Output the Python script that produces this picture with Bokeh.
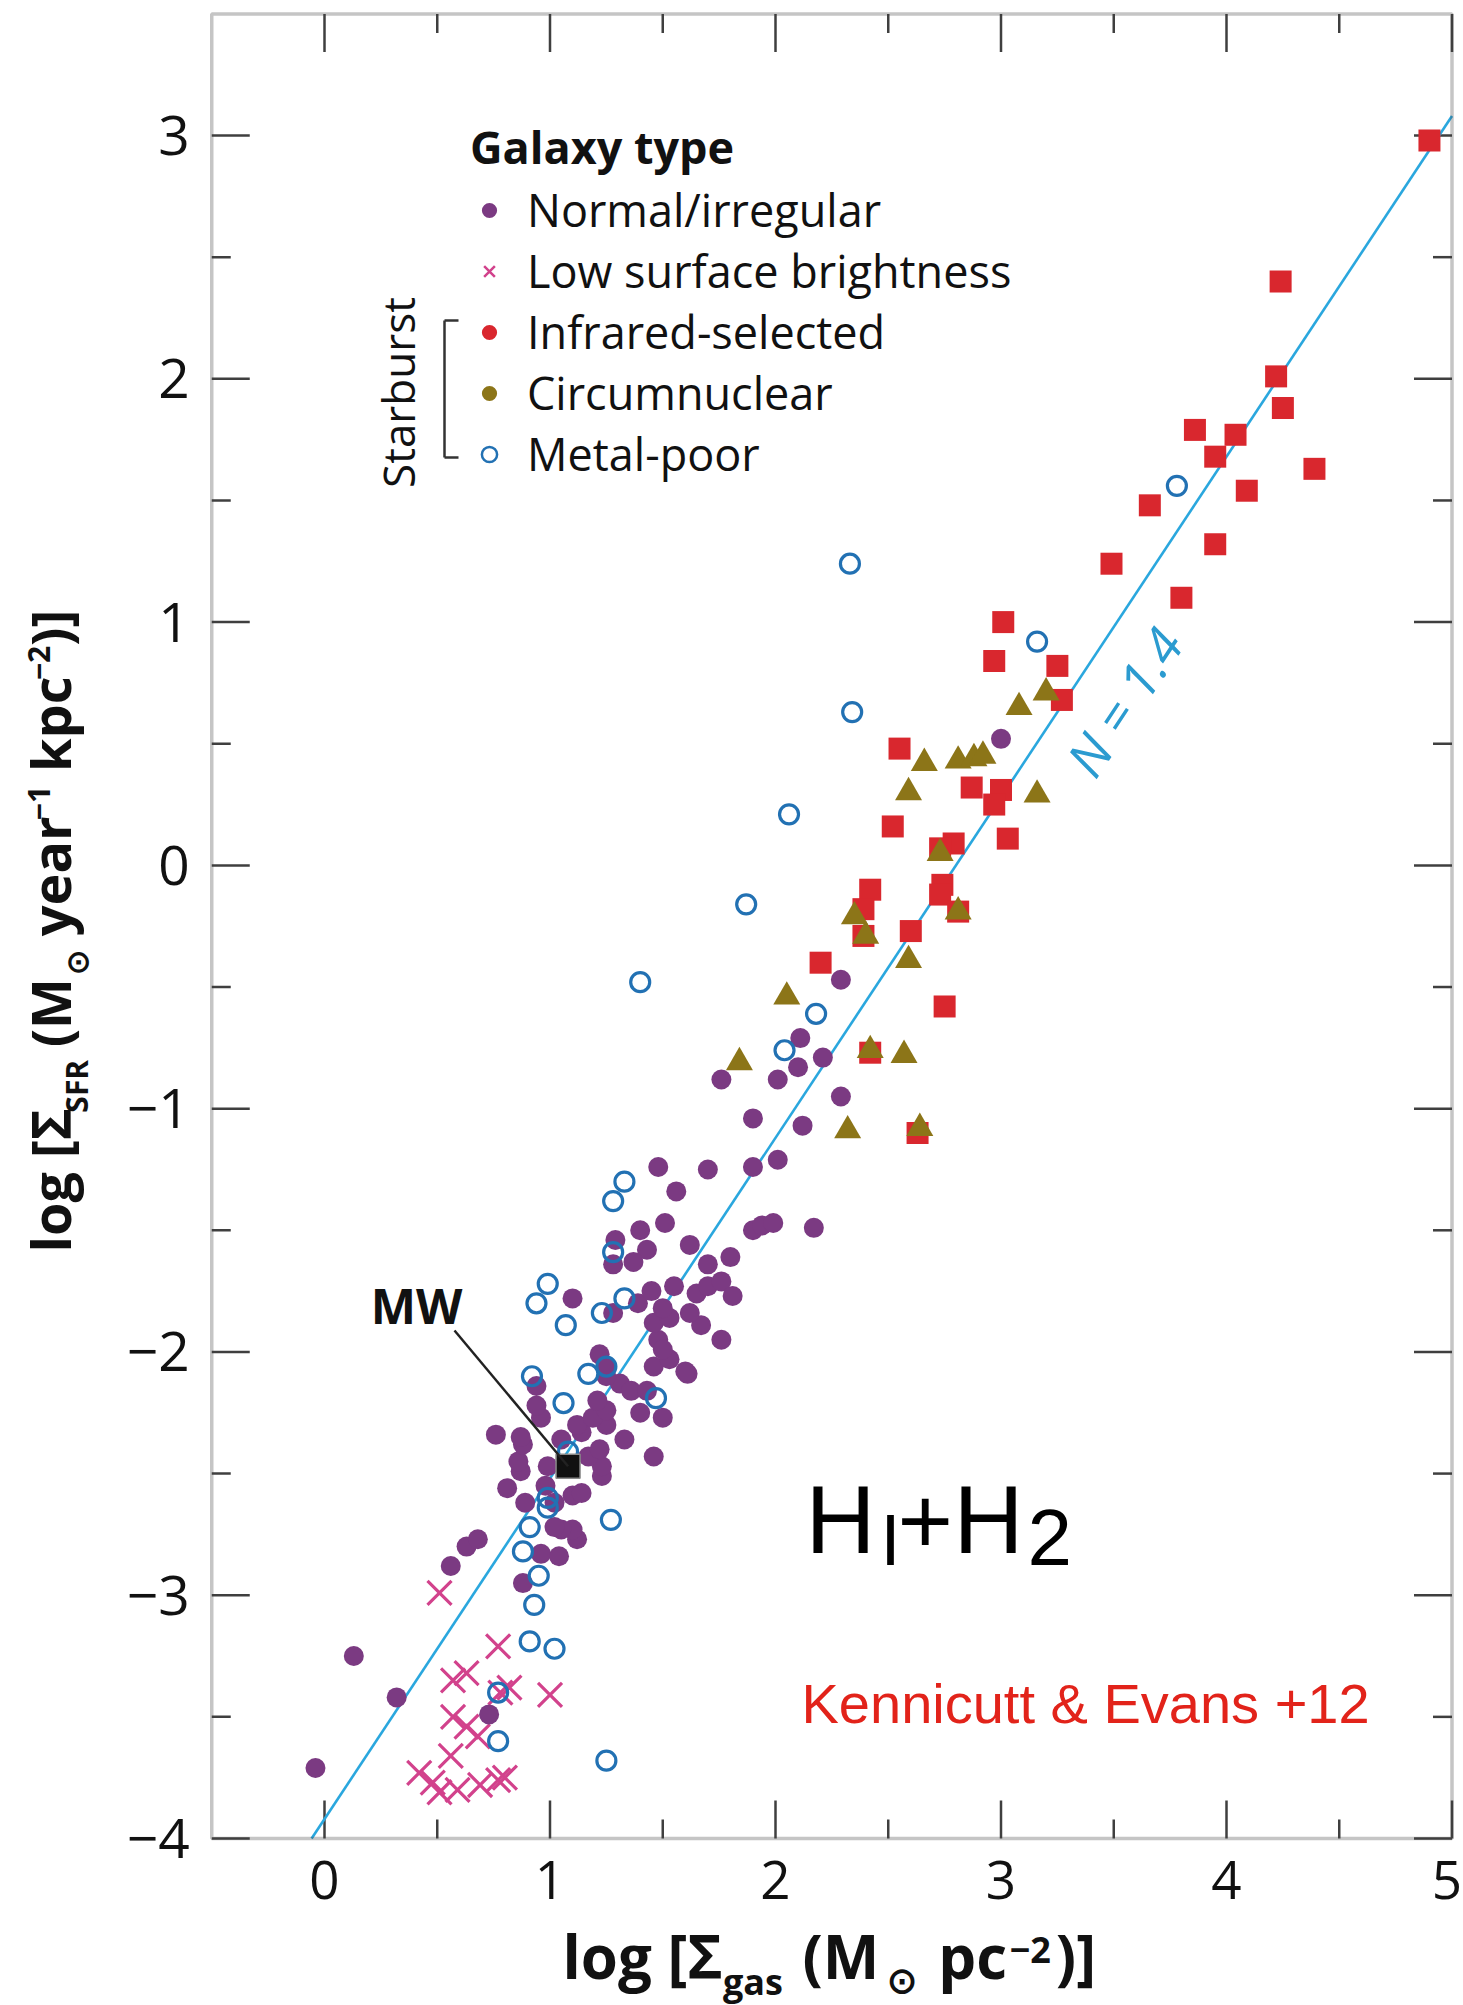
import math
import numpy as np
from bokeh.plotting import figure
from bokeh.models import Range1d, Label, Legend, LegendItem, Arrow, BoxAnnotation
from bokeh.embed import file_html
from bokeh.resources import INLINE
from bokeh.core.properties import value

# ---------------- data (log Sigma_gas, log Sigma_SFR) ----------------
normal_x = [-0.04, 0.13, 0.32, 0.73, 0.56, 0.63, 0.68, 0.88, 0.96, 1.04, 1.12, 1.10, 1.05, 1.02,
            1.02, 0.89, 1.10, 1.14, 0.81, 0.98, 1.23, 0.87, 0.99, 0.86, 1.23, 1.46, 1.17, 1.22,
            1.05, 0.88, 0.87, 0.76, 1.33, 1.14, 1.12, 1.25, 1.19, 1.50, 1.40, 1.25, 1.21,
            0.96, 0.94, 0.94, 1.31, 1.36, 1.43, 1.61, 1.25, 1.22, 1.25,
            1.46, 1.53, 1.60, 1.48, 1.50, 1.76, 1.67, 1.62, 1.46, 1.53, 1.39, 1.50, 1.45, 1.55,
            1.65, 1.70, 1.76, 1.81, 1.28, 1.10,
            1.62, 1.70, 1.80, 1.90, 1.94, 1.99, 2.17, 1.51, 1.40, 1.43, 1.29, 1.37, 1.28,
            1.56, 1.48, 1.70, 1.90, 2.01, 1.76, 2.01, 2.29, 1.90, 2.12,
            2.10, 2.21, 2.11, 2.29, 3.00]
normal_y = [-3.71, -3.25, -3.42, -3.49, -2.88, -2.80, -2.77, -2.95, -2.83, -2.84, -2.77, -2.73, -2.73, -2.72,
            -2.62, -2.62, -2.59, -2.58, -2.56, -2.55, -2.51, -2.49, -2.47, -2.45, -2.47, -2.43, -2.43, -2.40,
            -2.36, -2.38, -2.35, -2.34, -2.36, -2.33, -2.30, -2.30, -2.27, -2.27, -2.25, -2.24, -2.20,
            -2.27, -2.22, -2.14, -2.13, -2.16, -2.16, -2.09, -2.10, -2.01, -2.06,
            -2.06, -2.03, -2.08, -1.95, -1.99, -1.95, -1.89, -1.84, -1.88, -1.86, -1.80, -1.82, -1.75, -1.73,
            -1.76, -1.73, -1.71, -1.77, -1.84, -1.78,
            -1.56, -1.64, -1.61, -1.50, -1.48, -1.47, -1.49, -1.47, -1.50, -1.58, -1.54, -1.63, -1.64,
            -1.34, -1.24, -1.25, -1.24, -1.21, -0.88, -0.88, -0.95, -1.04, -1.07,
            -0.83, -0.79, -0.71, -0.47, 0.52]

lsb_x = [0.51, 0.77, 0.63, 0.57, 0.82, 0.78, 1.00, 0.57, 0.63, 0.68, 0.56, 0.42, 0.48, 0.59,
         0.69, 0.77, 0.80, 0.51]
lsb_y = [-2.99, -3.21, -3.32, -3.35, -3.38, -3.40, -3.41, -3.50, -3.54, -3.58, -3.66, -3.73, -3.77, -3.80,
         -3.78, -3.76, -3.75, -3.81]

ir_x = [4.90, 4.24, 4.22, 4.25, 3.86, 4.04, 3.95, 4.39, 4.09, 3.66, 3.95, 3.49, 3.80, 3.01, 2.97, 3.25,
        3.27, 2.55, 2.87, 3.00, 2.97, 2.52, 3.03, 2.79, 2.73, 2.74, 2.73, 2.42, 2.39, 2.39, 2.60, 2.20,
        2.81, 2.75, 2.42, 2.63]
ir_y = [2.98, 2.40, 2.01, 1.88, 1.79, 1.77, 1.68, 1.63, 1.54, 1.48, 1.32, 1.24, 1.10, 1.00, 0.84, 0.82,
        0.68, 0.48, 0.32, 0.31, 0.25, 0.16, 0.11, 0.09, 0.07, -0.08, -0.12, -0.10, -0.18, -0.29, -0.27, -0.40,
        -0.19, -0.58, -0.77, -1.10]

cn_x = [3.20, 3.08, 2.66, 2.81, 2.88, 2.92, 2.59, 3.16, 2.73, 2.35, 2.40, 2.81, 2.59, 2.05, 1.84, 2.42,
        2.57, 2.32, 2.64]
cn_y = [0.71, 0.65, 0.42, 0.43, 0.44, 0.45, 0.30, 0.29, 0.05, -0.21, -0.29, -0.19, -0.39, -0.54, -0.81, -0.76,
        -0.78, -1.09, -1.08]

mp_x = [3.78, 2.33, 3.16, 2.34, 2.06, 1.87, 1.40, 2.18, 2.04, 1.33, 1.28, 1.28, 0.99, 0.94, 1.07, 1.23,
        1.33, 0.92, 1.17, 1.25, 1.06, 1.47, 1.08, 0.99, 0.99, 1.27, 0.91, 0.88, 0.95, 0.93, 0.91, 1.02,
        0.77, 0.77, 1.25]
mp_y = [1.56, 1.24, 0.92, 0.63, 0.21, -0.16, -0.48, -0.61, -0.76, -1.30, -1.38, -1.59, -1.72, -1.80, -1.89, -1.84,
        -1.78, -2.10, -2.09, -2.06, -2.21, -2.19, -2.41, -2.60, -2.64, -2.69, -2.72, -2.82, -2.92, -3.04, -3.19, -3.22,
        -3.40, -3.60, -3.68]

mw_x = [1.08]
mw_y = [-2.47]

fit_slope = 1.4
fit_intercept = -3.92

x_ticks = [0, 1, 2, 3, 4, 5]
x_tick_labels = ["0", "1", "2", "3", "4", "5"]
y_ticks = [-4, -3, -2, -1, 0, 1, 2, 3]
y_tick_labels = ["\u22124", "\u22123", "\u22122", "\u22121", "0", "1", "2", "3"]

legend_labels = ["Normal/irregular", "Low surface brightness", "Infrared-selected",
                 "Circumnuclear", "Metal-poor"]

# ---------------- style / geometry ----------------
PURPLE = "#7b3a82"
PINK = "#d2428c"
RED = "#d9272e"
OLIVE = "#8c7518"
BLUE = "#2271b3"
LINE_BLUE = "#2aa7de"
AX = "#3f3f3f"

W, H = 1463, 2005
XR = (-0.5, 5.0)
YR = (-4.0, 3.5)
BOX_L, BOX_R, BOX_T, BOX_B = 211.25, 1451.5, 13.4, 1838.0   # plot box in page pixels
PX_X = (BOX_R - BOX_L) / (XR[1] - XR[0])
PX_Y = (BOX_B - BOX_T) / (YR[1] - YR[0])

def dx_(X):
    return XR[0] + (X - BOX_L) / PX_X

def dy_(Y):
    return YR[1] - (Y - BOX_T) / PX_Y

p = figure(width=W, height=H, x_range=Range1d(dx_(0), dx_(W)), y_range=Range1d(dy_(H), dy_(0)),
           output_backend="svg", toolbar_location=None, min_border=0,
           x_axis_location=None, y_axis_location=None)
p.xgrid.visible = False
p.ygrid.visible = False
p.outline_line_color = None
p.background_fill_color = "white"
p.border_fill_color = "white"

# ---------------- plot box, ticks, tick labels (on all four sides) ----------------
MAJ, MIN = 38, 19
x_minor = [t + 0.5 for t in x_ticks[:-1]]
y_minor = [t + 0.5 for t in y_ticks[:-1]]
for ticks, ln in [(x_ticks, MAJ), (x_minor, MIN)]:
    n = len(ticks)
    p.segment(ticks, [YR[0]] * n, ticks, [YR[0] + ln / PX_Y] * n, line_color=AX, line_width=2.5)
    p.segment(ticks, [YR[1]] * n, ticks, [YR[1] - ln / PX_Y] * n, line_color=AX, line_width=2.5)
for ticks, ln in [(y_ticks, MAJ), (y_minor, MIN)]:
    n = len(ticks)
    p.segment([XR[0]] * n, ticks, [XR[0] + ln / PX_X] * n, ticks, line_color=AX, line_width=2.5)
    p.segment([XR[1]] * n, ticks, [XR[1] - ln / PX_X] * n, ticks, line_color=AX, line_width=2.5)

# keep the last x label inside the page edge
x_lab_off = [0, 0, 0, 0, 0, -5]
p.text(x=x_ticks, y=[YR[0] - 41 / PX_Y] * len(x_ticks), text=x_tick_labels, x_offset=x_lab_off,
       text_align="center", text_baseline="middle", text_font=value("Open Sans"),
       text_font_size="53px", text_color="#111111")
p.text(x=[XR[0] - 22 / PX_X] * len(y_ticks), y=y_ticks, text=y_tick_labels,
       text_align="right", text_baseline="middle", text_font=value("Open Sans"),
       text_font_size="55px", text_color="#111111")

# ---------------- data glyphs ----------------
fx = np.array([(YR[0] - fit_intercept) / fit_slope, XR[1]])
p.line(fx, fit_slope * fx + fit_intercept, line_color=LINE_BLUE, line_width=2.6)

p.scatter(lsb_x, lsb_y, marker="x", size=34, line_color=PINK, line_width=3.2)
p.scatter(normal_x, normal_y, marker="circle", size=20, fill_color=PURPLE, line_color=None)
p.scatter(mp_x, mp_y, marker="circle", size=19, fill_color=None, line_color=BLUE, line_width=3.2)
p.scatter(ir_x, ir_y, marker="square", size=22, fill_color=RED, line_color=None)
p.scatter(cn_x, cn_y, marker="triangle", size=27, fill_color=OLIVE, line_color=None)

p.add_layout(BoxAnnotation(left=XR[0], right=XR[1], bottom=YR[0], top=YR[1],
                           fill_color=None, fill_alpha=0, line_color=AX, line_width=3.5))

# MW
p.add_layout(Arrow(end=None, x_start=dx_(454), y_start=dy_(1330), x_end=mw_x[0], y_end=mw_y[0],
                   line_color="#222222", line_width=2.5))
p.scatter(mw_x, mw_y, marker="square", size=24, fill_color="#111111", line_color="#8a8a8a", line_width=1.5)

def lbl(X, Y, text, size, font="Open Sans", style="normal", align="left", baseline="middle",
        angle=0.0, color="#111111"):
    p.add_layout(Label(x=dx_(X), y=dy_(Y), text=text, text_align=align, text_baseline=baseline,
                       text_font=font, text_font_style=style, text_font_size=f"{size:.1f}px",
                       angle=angle, text_color=color))

lbl(416, 1305, "MW", 48, style="bold", align="center")

# ---------------- legend (key glyphs from hidden copies of each series) ----------------
leg_specs = [(normal_x, normal_y, dict(marker="circle", fill_color=PURPLE, line_color=None)),
             (lsb_x, lsb_y, dict(marker="x", line_color=PINK, line_width=2.5)),
             (ir_x, ir_y, dict(marker="circle", fill_color=RED, line_color=None)),
             (cn_x, cn_y, dict(marker="circle", fill_color=OLIVE, line_color=None)),
             (mp_x, mp_y, dict(marker="circle", fill_color=None, line_color=BLUE, line_width=2.5))]
items = []
for lab, (xs, ys, spec) in zip(legend_labels, leg_specs):
    r = p.scatter(xs, ys, size=15, visible=False, **spec)
    items.append(LegendItem(label=lab, renderers=[r]))
legend = Legend(items=items, location=(470, H - 484), title="Galaxy type",
                title_text_font="Open Sans", title_text_font_style="bold", title_text_font_size="45px",
                title_standoff=2, label_text_font="Open Sans", label_text_font_size="45px",
                label_text_color="#111111", title_text_color="#111111",
                glyph_width=38, glyph_height=38, label_standoff=19, spacing=0, padding=0, margin=0,
                border_line_color=None, background_fill_alpha=0, inactive_fill_alpha=0)
p.add_layout(legend)

lbl(397, 392, "Starburst", 44, align="center", angle=math.pi / 2)
for (xs, ys, xe, ye) in [(444, 320, 444, 457), (444, 320, 458, 320), (444, 457, 458, 457)]:
    p.add_layout(Arrow(end=None, x_start=dx_(xs), y_start=dy_(ys), x_end=dx_(xe), y_end=dy_(ye),
                       line_color="#333333", line_width=2.5))

# ---------------- annotations ----------------
ang = math.atan(fit_slope * PX_Y / PX_X)
lbl(1123, 701, "N = 1.4", 52, style="italic", align="center", angle=ang, color="#2b9bd0")

K_LIB, K_OS = 0.42, 0.40   # offset of the text anchor above the baseline (em)
for txt, X, Yb, size in [("H", 805, 1560, 97), ("I", 880, 1570, 72), ("+", 897, 1560, 95),
                         ("H", 953, 1560, 97), ("2", 1027, 1571, 80)]:
    lbl(X, Yb - K_LIB * size, txt, size, font="Liberation Sans", baseline="alphabetic", color="#000000")

lbl(801, 1727 - K_LIB * 56, "Kennicutt & Evans +12", 56, font="Liberation Sans",
    baseline="alphabetic", color="#e2231a")

# ---------------- axis titles (composed runs with sub/superscripts) ----------------
EM = {'l': .28, 'o': .60, 'g': .56, ' ': .26, '[': .33, ']': .33, 'Σ': .56, '(': .34, ')': .34,
      'M': .99, '⊙': .84, 'y': .56, 'e': .58, 'a': .58, 'r': .43, 'k': .59, 'p': .61, 'c': .50,
      's': .50, 'S': .54, 'F': .54, 'R': .63, '−': .57, '1': .57, '2': .57}

def width(txt, size):
    return sum(EM.get(c, .55) for c in txt) * size

# runs: (text, size, baseline, gap before in em of the main size)
XF, XS = 60, 36
x_runs = [("log [Σ", XF, 1979, 0), ("gas", XS, 1995, 0), ("(M", XF, 1979, .26), ("⊙", XS, 1993, 0),
          ("pc", XF, 1979, .26), ("−2", XS, 1964, 0), (")]", XF, 1979, 0)]
cx = 562.0
for txt, size, base, gap in x_runs:
    cx += gap * XF
    lbl(cx, base - K_OS * size, txt, size, style="bold", baseline="alphabetic")
    cx += width(txt, size) + 5

YF, YS = 54, 30
y_runs = [("log [Σ", YF, 71, 0), ("SFR", YS, 88, 0), ("(M", YF, 71, .26), ("⊙", YS, 88, 0),
          ("year", YF, 71, .26), ("−1", YS, 50, 0), ("kpc", YF, 71, .26), ("−2", YS, 50, 0),
          (")]", YF, 71, 0)]
cy = 1252.0
for txt, size, base, gap in y_runs:
    cy -= gap * YF
    lbl(base - K_OS * size, cy, txt, size, style="bold", baseline="alphabetic", angle=math.pi / 2)
    cy -= width(txt, size)

open("out.html", "w").write(file_html(p, INLINE))
